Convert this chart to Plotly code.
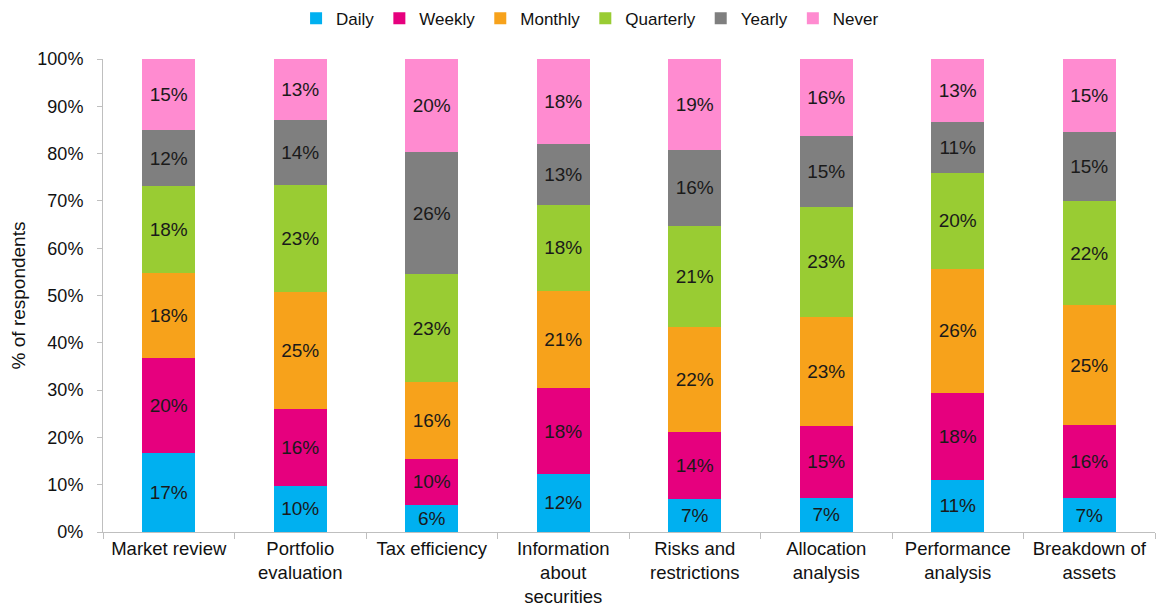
import plotly.graph_objects as go

categories = [
    "Market review", "Portfolio<br>evaluation", "Tax efficiency",
    "Information<br>about<br>securities", "Risks and<br>restrictions",
    "Allocation<br>analysis", "Performance<br>analysis", "Breakdown of<br>assets",
]

# share of respondents, %
daily = [16.7, 9.8, 5.8, 12.3, 6.9, 7.2, 11.1, 7.1]
weekly = [20.0, 16.1, 9.6, 18.1, 14.2, 15.2, 18.2, 15.5]
monthly = [18.0, 24.8, 16.3, 20.6, 22.2, 23.1, 26.4, 25.4]
quarterly = [18.4, 22.6, 22.8, 18.2, 21.4, 23.2, 20.2, 21.9]
yearly = [11.9, 13.7, 25.8, 12.8, 16.1, 15.1, 10.7, 14.6]
never = [15.0, 13.0, 19.7, 18.0, 19.2, 16.2, 13.4, 15.4]

series = [
    ("Daily", daily, "#00b0f0"),
    ("Weekly", weekly, "#e6007e"),
    ("Monthly", monthly, "#f7a21b"),
    ("Quarterly", quarterly, "#99cc33"),
    ("Yearly", yearly, "#7f7f7f"),
    ("Never", never, "#ff8bd0"),
]

font_family = "Liberation Sans, Arial, sans-serif"

fig = go.Figure()
for name, values, color in series:
    fig.add_trace(go.Bar(
        x=categories,
        y=values,
        name=name,
        marker=dict(color=color, line=dict(width=0)),
        texttemplate="%{y:.0f}%",
        textposition="inside",
        insidetextanchor="middle",
        textangle=0,
        textfont=dict(size=19, color="#1a1a1a", family=font_family),
    ))

fig.update_layout(
    barmode="stack",
    bargap=0.6,
    width=1161,
    height=610,
    margin=dict(l=103, r=6, t=59, b=78, autoexpand=False),
    plot_bgcolor="#ffffff",
    paper_bgcolor="#ffffff",
    font=dict(family=font_family, size=18, color="#111111"),
    uniformtext=dict(minsize=19, mode="show"),
    legend=dict(
        orientation="h",
        x=0.463, xanchor="center",
        y=1.085, yanchor="middle",
        font=dict(size=17),
        itemwidth=30,
        traceorder="normal",
    ),
)

fig.update_xaxes(
    showgrid=False,
    showline=True,
    linecolor="#bfbfbf",
    linewidth=1,
    ticks="outside",
    tickson="boundaries",
    ticklen=6,
    tickcolor="#bfbfbf",
    tickfont=dict(size=18.5),
    automargin=False,
)
fig.update_yaxes(
    range=[0, 100],
    dtick=10,
    ticksuffix="%\u00a0\u00a0",
    showgrid=False,
    showline=True,
    linecolor="#bfbfbf",
    linewidth=1,
    ticks="outside",
    ticklen=5,
    tickcolor="#bfbfbf",
    tickfont=dict(size=18),
    title=dict(text="% of respondents", font=dict(size=19), standoff=6),
    zeroline=False,
    automargin=False,
)

# the page body has a default 8px margin; drop it so the figure fills the window
fig.write_html(
    "out.html",
    config={"displayModeBar": False},
    post_script="document.body.style.margin='0';",
)
